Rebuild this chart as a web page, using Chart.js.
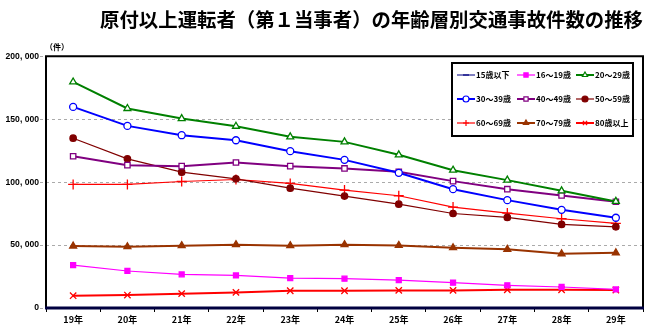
<!DOCTYPE html>
<html>
<head>
<meta charset="utf-8">
<script src="https://cdn.jsdelivr.net/npm/chart.js@4"></script>
<style>
  body { margin: 0; background: #fff; }
</style>
</head>
<body>
<canvas id="chart" width="654" height="334"></canvas>
<script>
// data (件)
const years = ['19年', '20年', '21年', '22年', '23年', '24年', '25年', '26年', '27年', '28年', '29年'];
const ageGroups = ['15歳以下', '16～19歳', '20～29歳', '30～39歳', '40～49歳', '50～59歳', '60～69歳', '70～79歳', '80歳以上'];
const under15 = [300, 300, 300, 300, 300, 300, 300, 300, 300, 300, 300];
const age16to19 = [34100, 29400, 26700, 25900, 23800, 23300, 22200, 20100, 18000, 16700, 14800];
const age20s = [179600, 158500, 150500, 144400, 136000, 132000, 121700, 109500, 101600, 93100, 84700];
const age30s = [159800, 144700, 137300, 133300, 124600, 117700, 107400, 94400, 85700, 78000, 71700];
const age40s = [120600, 113500, 112700, 115600, 112700, 110900, 108200, 100800, 94400, 89400, 84400];
const age50s = [134900, 118500, 107900, 102600, 95200, 88900, 82500, 75100, 72000, 66400, 64500];
const age60s = [98200, 98200, 100500, 102100, 99000, 93700, 89200, 80200, 75400, 70900, 67200];
const age70s = [49200, 48700, 49500, 50300, 49500, 50300, 49700, 47900, 46600, 43100, 43900];
const age80plus = [9800, 10300, 11400, 12400, 13700, 13700, 14000, 14000, 14500, 14500, 14300];

const FONT = '"Noto Sans CJK JP", "Noto Sans", sans-serif';
const NUMFONT = '"Liberation Sans", Arial, sans-serif';

function series(label, data, color, style, fill, lineW, radius) {
    return {
        label: label,
        data: data,
        borderColor: color,
        backgroundColor: fill,
        borderWidth: lineW,
        pointStyle: style,
        pointRadius: radius,
        pointBorderColor: color,
        pointBackgroundColor: fill,
        pointBorderWidth: 1.3,
        tension: 0
    };
}

const datasets = [
    series(ageGroups[0], under15, '#000080', 'line', '#000080', 1, 3),
    series(ageGroups[1], age16to19, '#FF00FF', 'rect', '#FF00FF', 1.2, 3.5),
    series(ageGroups[2], age20s, '#008000', 'triangle', '#ffffff', 2, 4),
    series(ageGroups[3], age30s, '#0000FF', 'circle', '#ffffff', 2, 3.5),
    series(ageGroups[4], age40s, '#800080', 'rect', '#ffffff', 2, 3.8),
    series(ageGroups[5], age50s, '#800000', 'circle', '#800000', 1.2, 3.2),
    series(ageGroups[6], age60s, '#FF0000', 'cross', '#FF0000', 1.2, 5),
    series(ageGroups[7], age70s, '#993300', 'triangle', '#993300', 2, 4),
    series(ageGroups[8], age80plus, '#FF0000', 'crossRot', '#FF0000', 2, 4.5)
];

// frame, unit label and the boxed legend inside the plot
const extras = {
    id: 'extras',
    afterDraw(chart) {
        const ctx = chart.ctx;
        const a = chart.chartArea;
        ctx.save();
        ctx.strokeStyle = '#000';
        ctx.lineWidth = 2;
        ctx.beginPath();
        ctx.moveTo(a.left, a.bottom);
        ctx.lineTo(a.left, a.top);
        ctx.lineTo(a.right, a.top);
        ctx.lineTo(a.right, a.bottom);
        ctx.stroke();
        ctx.strokeStyle = '#000040';
        ctx.lineWidth = 3;
        ctx.beginPath();
        ctx.moveTo(a.left - 1, a.bottom);
        ctx.lineTo(a.right + 1, a.bottom);
        ctx.stroke();

        ctx.fillStyle = '#000';
        ctx.font = 'bold 8px ' + FONT;
        ctx.textAlign = 'left';
        ctx.textBaseline = 'middle';
        ctx.fillText('（件）', a.left - 1, a.top - 9);

        // legend
        const bx = 452, by = 63, bw = 181, bh = 73;
        ctx.fillStyle = '#fff';
        ctx.fillRect(bx, by, bw, bh);
        ctx.lineWidth = 2;
        ctx.strokeStyle = '#000';
        ctx.strokeRect(bx, by, bw, bh);
        const cols = [457, 517, 576];
        const rows = [75, 99, 123];
        chart.data.datasets.forEach(function (ds, i) {
            const x = cols[i % 3];
            const y = rows[Math.floor(i / 3)];
            ctx.strokeStyle = ds.borderColor;
            ctx.lineWidth = ds.borderWidth;
            ctx.beginPath();
            ctx.moveTo(x, y);
            ctx.lineTo(x + 18, y);
            ctx.stroke();
            ctx.fillStyle = ds.pointBackgroundColor;
            ctx.strokeStyle = ds.pointBorderColor;
            ctx.lineWidth = 1.2;
            Chart.helpers.drawPoint(ctx, {
                pointStyle: ds.pointStyle,
                radius: Math.min(ds.pointRadius, 3),
                rotation: 0,
                borderWidth: 1.2
            }, x + 9, y);
            ctx.fillStyle = '#000';
            ctx.font = 'bold 8px ' + FONT;
            ctx.fillText(ds.label, x + 19, y);
        });
        ctx.restore();
    }
};

new Chart(document.getElementById('chart').getContext('2d'), {
    type: 'line',
    data: { labels: years, datasets: datasets },
    plugins: [extras],
    options: {
        responsive: false,
        animation: false,
        layout: { padding: { left: 4, right: 11, top: 0, bottom: 4 } },
        plugins: {
            legend: { display: false },
            tooltip: { enabled: false },
            title: {
                display: true,
                text: '原付以上運転者（第１当事者）の年齢層別交通事故件数の推移',
                align: 'end',
                color: '#000',
                font: { family: FONT, size: 19.4, weight: 'bold' },
                padding: { top: 8, bottom: 25 }
            }
        },
        scales: {
            x: {
                offset: true,
                grid: { offset: true, drawOnChartArea: false, color: '#000', tickLength: 4 },
                border: { display: false },
                ticks: {
                    color: '#000',
                    padding: 2,
                    maxRotation: 0,
                    font: { family: FONT, size: 9, weight: 'bold' }
                },
                afterFit(scale) { scale.height = 22; }
            },
            y: {
                min: 0,
                max: 200000,
                border: { display: false, dash: [3, 3] },
                grid: {
                    color: function (c) {
                        const v = c.tick ? c.tick.value : 0;
                        return (v === 0 || v === 200000) ? 'rgba(0,0,0,0)' : '#aaa';
                    },
                    lineWidth: 1,
                    tickLength: 6,
                    tickColor: '#aaa',
                    tickBorderDash: [3, 3]
                },
                ticks: {
                    stepSize: 50000,
                    color: '#000',
                    padding: 1,
                    font: { family: NUMFONT, size: 8.6, weight: 'bold' },
                    callback: function (v) { return v.toLocaleString('en-US').replace(',', ', '); }
                },
                afterFit(scale) { scale.width = 42; }
            }
        }
    }
});
</script>
</body>
</html>
